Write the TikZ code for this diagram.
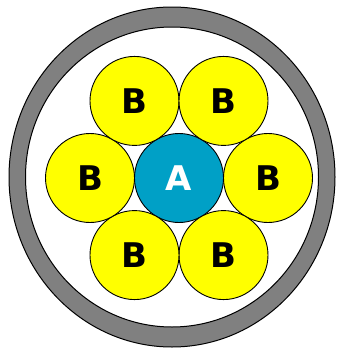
\documentclass[tikz,border=0pt]{standalone}
\usepackage{fontspec}
\setmainfont{DejaVu Sans}
\usetikzlibrary{positioning, calc}
\definecolor{core}{HTML}{00A0C6}
\definecolor{wire}{HTML}{FFFF00}
\definecolor{jacket}{HTML}{808080}

\begin{document}
\begin{tikzpicture}[x=1pt, y=-1pt,
  strand/.style={circle, draw=black, line width=0.9pt, fill=wire,
    minimum size=89pt, inner sep=0pt,
    font=\fontsize{34}{34}\selectfont\bfseries}]
  \useasboundingbox (0,0) rectangle (344,348);

  % Jacket ring
  \fill[jacket, even odd rule]
    (172,177) ellipse [x radius=163, y radius=170]
    (172,177) ellipse [x radius=146.5, y radius=150];
  \draw[line width=1pt] (172,177) ellipse [x radius=163, y radius=170];
  \draw[line width=1pt] (172,177) ellipse [x radius=146.5, y radius=150];

  % Core and outer strands
  \node[strand, fill=core, text=white] (a) at (179,178) {A};
  \foreach \i/\ang in {1/0, 2/60, 3/120, 4/180, 5/240, 6/300} {
    \node[strand] (b\i) at ($(a)+(\ang:89)$) {B};
  }
\end{tikzpicture}
\end{document}
